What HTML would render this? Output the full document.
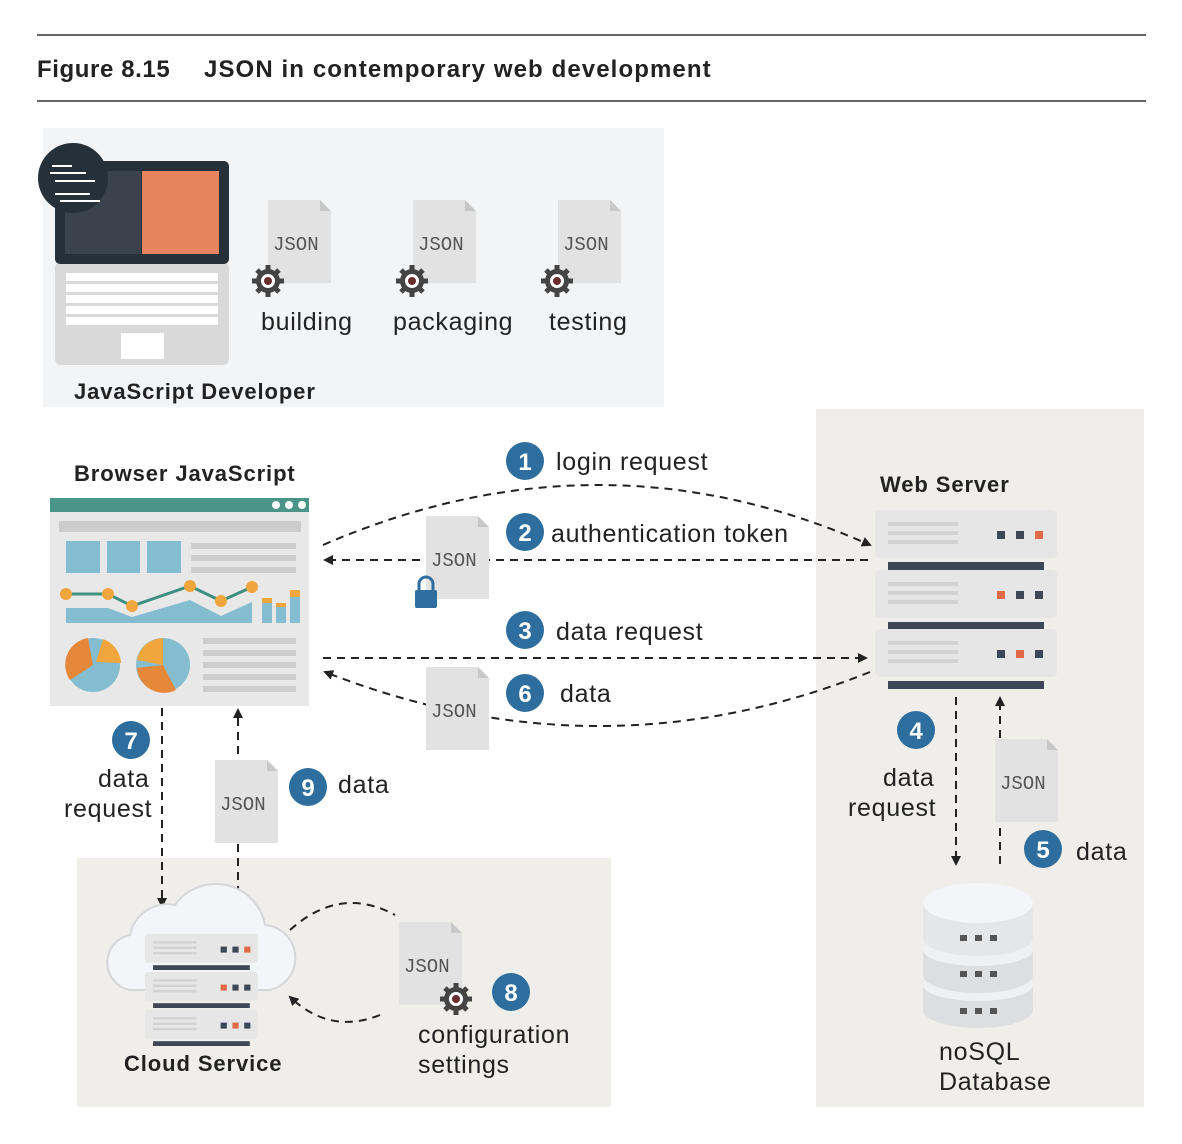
<!DOCTYPE html>
<html><head><meta charset="utf-8"><style>
html,body{margin:0;padding:0;background:#fff}
svg{display:block}
text{font-family:"Liberation Sans",sans-serif;fill:#222}
.j{font-family:"Liberation Mono",monospace;font-size:19px;fill:#555}
.l{font-size:25px;letter-spacing:0.7px}
.b{font-weight:bold}
.bl{font-weight:bold;font-size:22px;letter-spacing:0.9px}
.n{fill:#fff;font-weight:bold;font-size:24px;text-anchor:middle}
</style></head><body>
<svg width="1182" height="1144" viewBox="0 0 1182 1144" xmlns="http://www.w3.org/2000/svg">
<defs>
<marker id="a" markerWidth="10" markerHeight="10" refX="8" refY="5" orient="auto" markerUnits="userSpaceOnUse"><path d="M0,0 L10,5 L0,10 z" fill="#222"/></marker>
<g id="doc"><path d="M0,0 H52 L63,11 V83 H0 z" fill="#e2e2e2"/><path d="M52,0 V11 H63 z" fill="#c8c8c8"/></g>
<g id="gear"><circle r="12" fill="#444"/><g stroke="#444" stroke-width="5"><line x1="-16" y1="0" x2="16" y2="0"/><line x1="0" y1="-16" x2="0" y2="16"/><line x1="-11" y1="-11" x2="11" y2="11"/><line x1="-11" y1="11" x2="11" y2="-11"/></g><circle r="7" fill="#fff"/><circle r="4" fill="#6a2d2d"/></g>
<g id="unit"><rect x="0" y="0" width="182" height="48" rx="5" fill="#e6e6e6"/>
<g fill="#d2d2d2"><rect x="13" y="12" width="70" height="4"/><rect x="13" y="21" width="70" height="4"/><rect x="13" y="30" width="70" height="4"/></g>
<rect x="13" y="52" width="156" height="8" fill="#3e4756"/></g>
</defs>
<line x1="37" y1="35" x2="1146" y2="35" stroke="#333" stroke-width="1.5"/>
<line x1="37" y1="101" x2="1146" y2="101" stroke="#333" stroke-width="1.5"/>
<text x="37" y="77" class="b" style="font-size:24px;letter-spacing:0.6px">Figure 8.15</text>
<text x="204" y="77" class="b" style="font-size:24px;letter-spacing:1.1px">JSON in contemporary web development</text>

<rect x="43" y="128" width="621" height="279" fill="#f3f4f6"/>
<rect x="816" y="409" width="328" height="698" fill="#efeeea"/>
<rect x="77" y="858" width="534" height="249" fill="#efeeea"/>

<!-- laptop -->
<rect x="55" y="262" width="174" height="103" rx="6" fill="#d9d9d9"/>
<rect x="55" y="161" width="174" height="103" rx="5" fill="#263038"/>
<rect x="65" y="171" width="76" height="83" fill="#39424d"/>
<rect x="142" y="171" width="77" height="83" fill="#e5845f"/>
<g fill="#fff"><rect x="66" y="273" width="152" height="8"/><rect x="66" y="284" width="152" height="8"/><rect x="66" y="295" width="152" height="8"/><rect x="66" y="306" width="152" height="8"/><rect x="66" y="317" width="152" height="8"/><rect x="121" y="333" width="43" height="26"/></g>
<circle cx="73" cy="178" r="35" fill="#263038"/>
<g fill="#fff"><rect x="52" y="165" width="20" height="2"/><rect x="50" y="172" width="36" height="2"/><rect x="55" y="180" width="40" height="2"/><rect x="55" y="193" width="35" height="2"/><rect x="60" y="200" width="40" height="2"/></g>

<use href="#doc" x="268" y="200"/><use href="#doc" x="413" y="200"/><use href="#doc" x="558" y="200"/>
<text x="273" y="250" class="j">JSON</text><text x="418" y="250" class="j">JSON</text><text x="563" y="250" class="j">JSON</text>
<use href="#gear" x="268" y="281"/><use href="#gear" x="412" y="281"/><use href="#gear" x="557" y="281"/>
<text x="261" y="330" class="l">building</text><text x="393" y="330" class="l">packaging</text><text x="549" y="330" class="l">testing</text>
<text x="74" y="399" class="bl">JavaScript Developer</text>

<!-- browser -->
<text x="74" y="481" class="bl">Browser JavaScript</text>
<rect x="50" y="498" width="259" height="208" fill="#e8e8e8"/>
<rect x="50" y="498" width="259" height="14" fill="#4a9488"/>
<g fill="#fff"><circle cx="276" cy="505" r="4"/><circle cx="289" cy="505" r="4"/><circle cx="302" cy="505" r="4"/></g>
<rect x="59" y="521" width="242" height="11" fill="#cdcdcd"/>
<g fill="#84bdd0"><rect x="66" y="541" width="34" height="32"/><rect x="107" y="541" width="33" height="32"/><rect x="147" y="541" width="34" height="32"/>
<path d="M66,608 H108 L132,617 L190,600 L221,616 L252,602 V623 H66 z"/><rect x="262" y="600" width="10" height="23"/><rect x="276" y="605" width="10" height="18"/><rect x="290" y="596" width="10" height="27"/></g>
<g fill="#cdcdcd"><rect x="191" y="543" width="105" height="6"/><rect x="191" y="555" width="105" height="6"/><rect x="191" y="567" width="105" height="6"/>
<rect x="203" y="638" width="93" height="6"/><rect x="203" y="650" width="93" height="6"/><rect x="203" y="662" width="93" height="6"/><rect x="203" y="674" width="93" height="6"/><rect x="203" y="686" width="93" height="6"/></g>
<polyline points="66,594 108,594 132,606 190,586 221,601 252,587" fill="none" stroke="#3d8f80" stroke-width="3"/>
<g fill="#f0a63c"><circle cx="66" cy="594" r="6"/><circle cx="108" cy="594" r="6"/><circle cx="132" cy="606" r="6"/><circle cx="190" cy="586" r="6"/><circle cx="221" cy="601" r="6"/><circle cx="252" cy="587" r="6"/><rect x="262" y="598" width="10" height="5"/><rect x="276" y="603" width="10" height="4"/><rect x="290" y="590" width="10" height="7"/></g>
<circle cx="93" cy="665" r="27" fill="#84bdd0"/><path d="M93,665 L70,680 A27,27 0 0 1 88,638 z" fill="#e5883a"/><path d="M96,662 L103,639 A27,27 0 0 1 121,663 z" fill="#f0a63c"/>
<circle cx="163" cy="665" r="27" fill="#84bdd0"/><path d="M163,665 L176,690 A27,27 0 0 1 137,668 z" fill="#e5883a"/><path d="M163,665 L137,660 A27,27 0 0 1 163,638 z" fill="#f0a63c"/>

<!-- web server -->
<text x="880" y="492" class="bl">Web Server</text>
<g transform="translate(875,510)"><use href="#unit"/><rect x="122" y="21" width="8" height="8" fill="#3e4756"/><rect x="141" y="21" width="8" height="8" fill="#3e4756"/><rect x="160" y="21" width="8" height="8" fill="#e06a45"/></g>
<g transform="translate(875,570)"><use href="#unit"/><rect x="122" y="21" width="8" height="8" fill="#e06a45"/><rect x="141" y="21" width="8" height="8" fill="#3e4756"/><rect x="160" y="21" width="8" height="8" fill="#3e4756"/></g>
<g transform="translate(875,629)"><use href="#unit"/><rect x="122" y="21" width="8" height="8" fill="#3e4756"/><rect x="141" y="21" width="8" height="8" fill="#e06a45"/><rect x="160" y="21" width="8" height="8" fill="#3e4756"/></g>

<!-- arrows -->
<g fill="none" stroke="#222" stroke-width="2" stroke-dasharray="8,6">
<path d="M323,545 Q600,425 870,545" marker-end="url(#a)"/>
<line x1="868" y1="560" x2="325" y2="560" marker-end="url(#a)"/>
<line x1="323" y1="658" x2="866" y2="658" marker-end="url(#a)"/>
<path d="M870,672 Q600,780 325,672" marker-end="url(#a)"/>
<line x1="162" y1="708" x2="162" y2="906" marker-end="url(#a)"/>
<line x1="238" y1="908" x2="238" y2="710" marker-end="url(#a)"/>
<line x1="956" y1="697" x2="956" y2="864" marker-end="url(#a)"/>
<line x1="1000" y1="864" x2="1000" y2="698" marker-end="url(#a)"/>
<path d="M290,930 Q340,885 395,915"/>
<path d="M380,1015 Q330,1035 290,997" marker-end="url(#a)"/>
</g>

<use href="#doc" x="426" y="516"/><text x="431" y="566" class="j">JSON</text>
<rect x="415" y="590" width="22" height="18" rx="2" fill="#2e6e9e"/><path d="M419,590 v-6 a7,7 0 0 1 14,0 v6" fill="none" stroke="#2e6e9e" stroke-width="3"/>
<use href="#doc" x="426" y="667"/><text x="431" y="717" class="j">JSON</text>
<use href="#doc" x="215" y="760"/><text x="220" y="810" class="j">JSON</text>
<use href="#doc" x="995" y="739"/><text x="1000" y="789" class="j">JSON</text>
<use href="#doc" x="399" y="922"/><text x="404" y="972" class="j">JSON</text>
<use href="#gear" x="456" y="999"/>

<!-- cloud -->
<path d="M130,990 A28,28 0 0 1 130,935 A38,38 0 0 1 175,905 A50,50 0 0 1 265,925 A33,33 0 0 1 270,990 z" fill="#f3f5f8" stroke="#d4d6d9" stroke-width="2"/>
<g transform="translate(145,934) scale(0.62,0.6)"><use href="#unit"/><rect x="122" y="21" width="10" height="10" fill="#3e4756"/><rect x="141" y="21" width="10" height="10" fill="#3e4756"/><rect x="160" y="21" width="10" height="10" fill="#e06a45"/></g>
<g transform="translate(145,972) scale(0.62,0.6)"><use href="#unit"/><rect x="122" y="21" width="10" height="10" fill="#e06a45"/><rect x="141" y="21" width="10" height="10" fill="#3e4756"/><rect x="160" y="21" width="10" height="10" fill="#3e4756"/></g>
<g transform="translate(145,1010) scale(0.62,0.6)"><use href="#unit"/><rect x="122" y="21" width="10" height="10" fill="#3e4756"/><rect x="141" y="21" width="10" height="10" fill="#e06a45"/><rect x="160" y="21" width="10" height="10" fill="#3e4756"/></g>
<text x="124" y="1071" class="bl">Cloud Service</text>

<!-- database -->
<g>
<path d="M923,985 v25 a55,18 0 0 0 110,0 v-25 z" fill="#dcdedf"/><ellipse cx="978" cy="985" rx="55" ry="16" fill="#eef0f2"/>
<path d="M923,950 v25 a55,18 0 0 0 110,0 v-25 z" fill="#dcdedf"/><ellipse cx="978" cy="950" rx="55" ry="16" fill="#eef0f2"/>
<path d="M923,903 v35 a55,18 0 0 0 110,0 v-35 z" fill="#e4e6e8"/><ellipse cx="978" cy="903" rx="55" ry="20" fill="#f3f5f8"/>
<g fill="#555"><rect x="960" y="935" width="7" height="6"/><rect x="975" y="935" width="7" height="6"/><rect x="990" y="935" width="7" height="6"/><rect x="960" y="971" width="7" height="6"/><rect x="975" y="971" width="7" height="6"/><rect x="990" y="971" width="7" height="6"/><rect x="960" y="1008" width="7" height="6"/><rect x="975" y="1008" width="7" height="6"/><rect x="990" y="1008" width="7" height="6"/></g>
</g>
<text x="939" y="1060" class="l">noSQL</text><text x="939" y="1090" class="l">Database</text>

<!-- numbers -->
<g fill="#2e6e9e"><circle cx="525" cy="461" r="19"/><circle cx="525" cy="532" r="19"/><circle cx="525" cy="630" r="19"/><circle cx="525" cy="693" r="19"/><circle cx="916" cy="730" r="19"/><circle cx="1043" cy="849" r="19"/><circle cx="131" cy="740" r="19"/><circle cx="308" cy="787" r="19"/><circle cx="511" cy="992" r="19"/></g>
<text x="525" y="470" class="n">1</text><text x="525" y="541" class="n">2</text><text x="525" y="639" class="n">3</text><text x="525" y="702" class="n">6</text><text x="916" y="739" class="n">4</text><text x="1043" y="858" class="n">5</text><text x="131" y="749" class="n">7</text><text x="308" y="796" class="n">9</text><text x="511" y="1001" class="n">8</text>

<text x="556" y="470" class="l">login request</text>
<text x="551" y="542" class="l">authentication token</text>
<text x="556" y="640" class="l">data request</text>
<text x="560" y="702" class="l">data</text>
<text x="98" y="787" class="l">data</text><text x="64" y="817" class="l">request</text>
<text x="338" y="793" class="l">data</text>
<text x="883" y="786" class="l">data</text><text x="848" y="816" class="l">request</text>
<text x="1076" y="860" class="l">data</text>
<text x="418" y="1043" class="l">configuration</text><text x="418" y="1073" class="l">settings</text>
</svg>
</body></html>
